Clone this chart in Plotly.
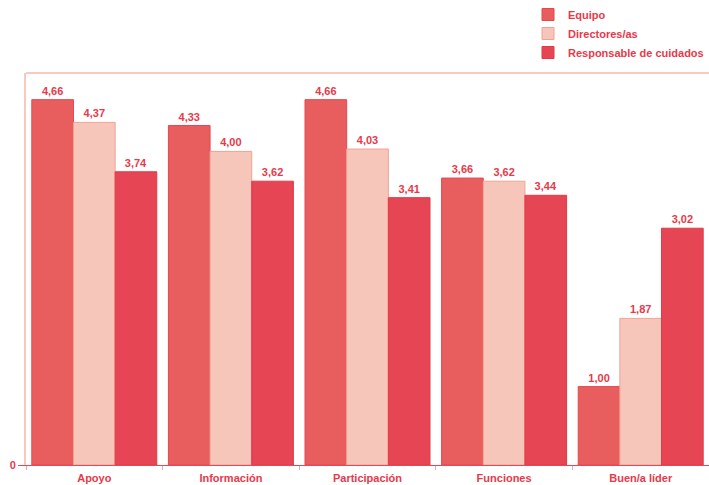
import plotly.graph_objects as go

categories = ["Apoyo", "Información", "Participación", "Funciones", "Buen/a líder"]
equipo = [4.66, 4.33, 4.66, 3.66, 1.00]
directores = [4.37, 4.00, 4.03, 3.62, 1.87]
responsable = [3.74, 3.62, 3.41, 3.44, 3.02]

series = [
    ("Equipo", equipo, "#e85d5d", "#e8474f"),
    ("Directores/as", directores, "#f7c6bb", "#f0a294"),
    ("Responsable de cuidados", responsable, "#e64553", "#e23a48"),
]

RED = "#e8394a"
FONT = "Liberation Sans"

fig = go.Figure()
for name, vals, fill, edge in series:
    fig.add_trace(go.Bar(
        name=name,
        x=categories,
        y=vals,
        marker=dict(color=fill, line=dict(color=edge, width=1)),
        texttemplate="%{y:.2f}",
        textposition="outside",
        textfont=dict(family=FONT, size=11, color=RED, weight="bold"),
        cliponaxis=False,
    ))

fig.update_layout(
    width=709,
    height=485,
    margin=dict(l=26, r=0, t=73, b=20, autoexpand=False),
    paper_bgcolor="white",
    plot_bgcolor="white",
    barmode="group",
    bargap=0.085,
    bargroupgap=0,
    separators=",.",
    font=dict(family=FONT, size=11, color=RED, weight="bold"),
    showlegend=True,
    legend=dict(
        x=1, xanchor="right", xref="container",
        y=1, yanchor="top", yref="container",
        font=dict(family=FONT, size=11, color=RED, weight="bold"),
        bgcolor="rgba(0,0,0,0)",
        itemwidth=30,
        traceorder="normal",
    ),
    xaxis=dict(
        showgrid=False,
        showline=True,
        linecolor="#e8475a",
        linewidth=1,
        ticks="outside",
        tickson="boundaries",
        ticklen=4,
        tickcolor="#f2a8a8",
        tickfont=dict(family=FONT, size=11, color=RED, weight="bold"),
        ticklabelstandoff=3,
    ),
    yaxis=dict(
        range=[0, 5],
        showgrid=False,
        zeroline=False,
        showline=True,
        linecolor="#f9c8be",
        linewidth=2,
        tickvals=[0],
        ticktext=["0"],
        ticks="outside",
        ticklen=6,
        tickcolor="#e8475a",
        tickfont=dict(family=FONT, size=11, color=RED, weight="bold"),
    ),
    shapes=[dict(
        type="line", xref="paper", yref="paper",
        x0=0, x1=1, y0=1, y1=1,
        line=dict(color="#f9c8be", width=2),
    )],
)

fig.write_html("out.html")
